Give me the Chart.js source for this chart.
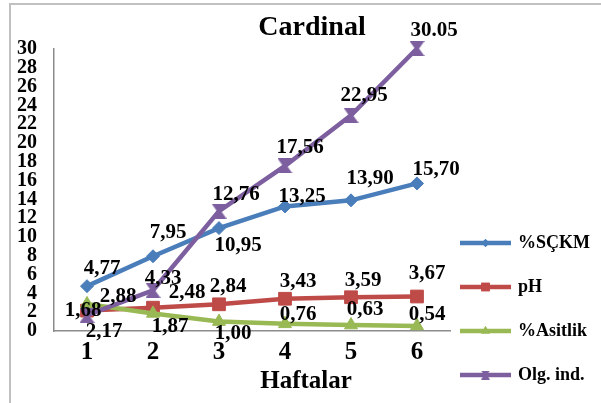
<!DOCTYPE html>
<html>
<head>
<meta charset="utf-8">
<script src="https://cdn.jsdelivr.net/npm/chart.js@4/dist/chart.umd.min.js"></script>
<style>
  html, body { margin: 0; padding: 0; background: #ffffff; }
  #wrap { width: 601px; height: 403px; }
</style>
</head>
<body>
<div id="wrap"><canvas id="chart" width="601" height="403"></canvas></div>
<script>
// weeks on the x axis
const weeks = ["1", "2", "3", "4", "5", "6"];

// series values
const sckm    = [4.77, 7.95, 10.95, 13.25, 13.90, 15.70];
const ph      = [2.17, 2.48, 2.84, 3.43, 3.59, 3.67];
const asitlik = [2.88, 1.87, 1.00, 0.76, 0.63, 0.54];
const olgInd  = [1.68, 4.33, 12.76, 17.56, 22.95, 30.05];

// last Olg. ind. label is written with a dot
const olgDecimalSep = [",", ",", ",", ",", ",", "."];

// value label offsets from each point [dx, dy]
const sckmOffsets = [[15, -18], [15, -24], [19, 18], [17, -10], [19, -22], [19, -14]];
const phOffsets   = [[17, 21], [34, -15], [9, -18], [13, -17], [12, -17], [10, -23]];
const asitOffsets = [[31, -7], [17, 13], [14, 12], [13, -9], [14, -15], [10, -11]];
const olgOffsets  = [[-4, -5], [10, -12], [17, -16], [15, -18], [13, -20], [17, -18]];

const FONT = "'Liberation Serif', 'Times New Roman', serif";

const BLUE   = "#4a7ebb";
const RED    = "#be4b48";
const GREEN  = "#98b954";
const PURPLE = "#7d5fa0";

// hourglass marker used for Olg. ind.
function hourglass(size, color) {
  const c = document.createElement("canvas");
  c.width = size; c.height = size;
  const g = c.getContext("2d");
  const h = size / 2;
  const w = size * 0.14;
  g.fillStyle = color;
  g.beginPath();
  g.moveTo(0, 0);
  g.lineTo(size, 0);
  g.lineTo(h + w, h);
  g.lineTo(size, size);
  g.lineTo(0, size);
  g.lineTo(h - w, h);
  g.closePath();
  g.fill();
  return c;
}
const olgMarker = hourglass(15, PURPLE);
const olgMarkerSmall = hourglass(9, PURPLE);

function fmt(v, sep) {
  return v.toFixed(2).replace(".", sep || ",");
}

// frame, title and axis title
const framePlugin = {
  id: "frame",
  beforeDraw(chart) {
    const ctx = chart.ctx;
    ctx.save();
    ctx.fillStyle = "#ffffff";
    ctx.fillRect(0, 0, chart.width, chart.height);
    ctx.strokeStyle = "#c0c0c0";
    ctx.lineWidth = 2;
    ctx.beginPath();
    ctx.moveTo(10, chart.height);
    ctx.lineTo(10, 4);
    ctx.lineTo(chart.width, 4);
    ctx.stroke();
    ctx.restore();
  },
  afterDraw(chart) {
    const ctx = chart.ctx;
    ctx.save();
    ctx.fillStyle = "#000000";
    ctx.textAlign = "center";
    ctx.textBaseline = "middle";
    ctx.font = "bold 28px " + FONT;
    ctx.fillText("Cardinal", 312, 28);
    ctx.font = "bold 25px " + FONT;
    ctx.fillText("Haftalar", 306, 382);
    ctx.restore();
  }
};

// value labels next to every point
const valueLabels = {
  id: "valueLabels",
  afterDatasetsDraw(chart) {
    const ctx = chart.ctx;
    ctx.save();
    ctx.font = "bold 21px " + FONT;
    ctx.fillStyle = "#000000";
    ctx.textAlign = "center";
    ctx.textBaseline = "middle";
    chart.data.datasets.forEach((ds, di) => {
      const meta = chart.getDatasetMeta(di);
      meta.data.forEach((pt, i) => {
        const off = ds.labelOffsets[i];
        const sep = ds.decimalSep ? ds.decimalSep[i] : ",";
        ctx.fillText(fmt(ds.data[i], sep), pt.x + off[0], pt.y + off[1]);
      });
    });
    ctx.restore();
  }
};

// legend on the right: line + marker + name
const sideLegend = {
  id: "sideLegend",
  afterDraw(chart) {
    const ctx = chart.ctx;
    const x0 = 460, x1 = 511, top = 243, step = 44;
    ctx.save();
    chart.data.datasets.forEach((ds, i) => {
      const y = top + i * step;
      ctx.strokeStyle = ds.borderColor;
      ctx.lineWidth = 4.5;
      ctx.beginPath();
      ctx.moveTo(x0, y);
      ctx.lineTo(x1, y);
      ctx.stroke();
      const mx = (x0 + x1) / 2;
      if (ds.label === "Olg. ind.") {
        ctx.drawImage(olgMarkerSmall, mx - 4.5, y - 4.5);
      } else {
        ctx.fillStyle = ds.borderColor;
        Chart.helpers.drawPoint(ctx, {
          pointStyle: ds.pointStyle,
          radius: ds.legendRadius,
          borderWidth: 0
        }, mx, y);
        ctx.fill();
      }
      ctx.fillStyle = "#000000";
      ctx.font = "bold 18px " + FONT;
      ctx.textAlign = "left";
      ctx.textBaseline = "middle";
      ctx.fillText(ds.label, 518, y);
    });
    ctx.restore();
  }
};

new Chart(document.getElementById("chart"), {
  type: "line",
  data: {
    labels: weeks,
    datasets: [
      {
        label: "%SÇKM",
        data: sckm,
        borderColor: BLUE,
        backgroundColor: BLUE,
        pointStyle: "rectRot",
        pointRadius: 6.5,
        legendRadius: 4,
        labelOffsets: sckmOffsets,
        order: 3
      },
      {
        label: "pH",
        data: ph,
        borderColor: RED,
        backgroundColor: RED,
        pointStyle: "rect",
        pointRadius: 9,
        legendRadius: 6,
        labelOffsets: phOffsets,
        order: 2
      },
      {
        label: "%Asitlik",
        data: asitlik,
        borderColor: GREEN,
        backgroundColor: GREEN,
        pointStyle: "triangle",
        pointRadius: 7.5,
        legendRadius: 5,
        labelOffsets: asitOffsets,
        order: 1
      },
      {
        label: "Olg. ind.",
        data: olgInd,
        borderColor: PURPLE,
        backgroundColor: PURPLE,
        pointStyle: olgMarker,
        pointRadius: 7.5,
        legendRadius: 4,
        labelOffsets: olgOffsets,
        decimalSep: olgDecimalSep,
        order: 0
      }
    ]
  },
  options: {
    responsive: false,
    animation: false,
    devicePixelRatio: 1,
    clip: false,
    layout: { padding: { top: 49, right: 151, bottom: 0, left: 0 } },
    elements: {
      line: { borderWidth: 4.5, tension: 0 },
      point: { borderWidth: 1, hoverRadius: 7 }
    },
    plugins: {
      legend: { display: false },
      title: { display: false },
      tooltip: { enabled: false }
    },
    scales: {
      x: {
        type: "category",
        offset: true,
        grid: { display: false, drawTicks: false },
        border: { display: true, color: "#8c8c8c", width: 1.5 },
        ticks: {
          color: "#000000",
          font: { family: FONT, size: 25, weight: "bold" },
          padding: 7
        },
        afterFit(scale) { scale.height = 72; }
      },
      y: {
        min: 0,
        max: 30,
        grid: { display: false, drawTicks: false },
        border: { display: true, color: "#8c8c8c", width: 1.5 },
        ticks: {
          stepSize: 2,
          autoSkip: false,
          color: "#000000",
          font: { family: FONT, size: 20, weight: "bold", lineHeight: 1 },
          padding: 17
        },
        afterFit(scale) { scale.width = 54; }
      }
    }
  },
  plugins: [framePlugin, valueLabels, sideLegend]
});
</script>
</body>
</html>
